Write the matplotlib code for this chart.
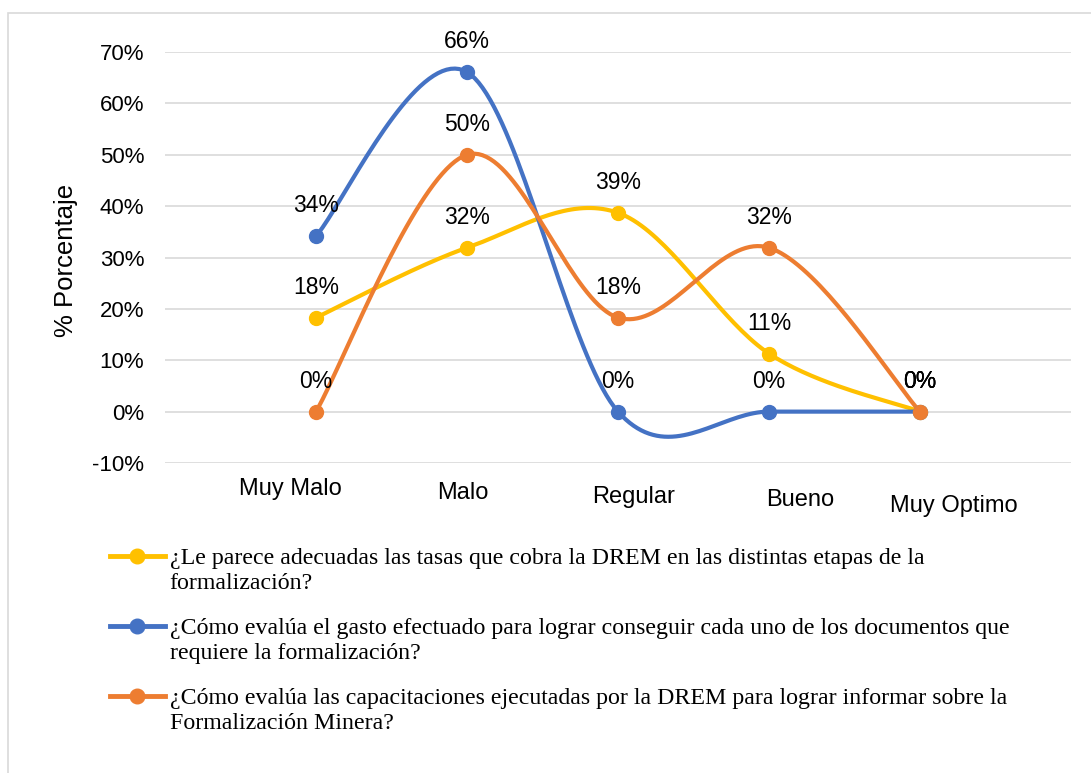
import numpy as np
import matplotlib.pyplot as plt
from matplotlib.patches import Rectangle
from matplotlib.ticker import PercentFormatter

plt.rcParams['font.family'] = ['Liberation Sans', 'DejaVu Sans']
plt.rcParams['axes.unicode_minus'] = False

# datos
categorias = ['Muy Malo', 'Malo', 'Regular', 'Bueno', 'Muy Optimo']
tasas = [0.183, 0.319, 0.387, 0.113, 0.0]
gasto = [0.342, 0.661, 0.0, 0.0, 0.0]
capacitaciones = [0.0, 0.50, 0.183, 0.319, 0.0]
preguntas = [
    '¿Le parece adecuadas las tasas que cobra la DREM en las distintas etapas de la\nformalización?',
    '¿Cómo evalúa el gasto efectuado para lograr conseguir cada uno de los documentos que\nrequiere la formalización?',
    '¿Cómo evalúa las capacitaciones ejecutadas por la DREM para lograr informar sobre la\nFormalización Minera?',
]
colores = ['#FFC000', '#4472C4', '#ED7D31']

# desplazamiento (pt) de cada etiqueta de categoria, como en el original
desfase_x = [-18.7, -2.9, 11.5, 22.3, 24.5]
desfase_y = [11.0, 14.0, 16.5, 19.0, 23.0]


def suavizar(y, n=40):
    # curva tipo Excel (bezier catmull-rom)
    p = np.column_stack([np.arange(len(y), dtype=float), y])
    pts = []
    for i in range(len(p) - 1):
        p0 = p[max(i - 1, 0)]
        p1 = p[i]
        p2 = p[i + 1]
        p3 = p[min(i + 2, len(p) - 1)]
        c1 = p1 + (p2 - p0) / 6
        c2 = p2 - (p3 - p1) / 6
        t = np.linspace(0, 1, n)[:, None]
        seg = (1 - t)**3 * p1 + 3 * (1 - t)**2 * t * c1 + 3 * (1 - t) * t**2 * c2 + t**3 * p2
        pts.append(seg if i == 0 else seg[1:])
    s = np.vstack(pts)
    return s[:, 0], s[:, 1]


fig = plt.figure(figsize=(10.91, 7.73), dpi=100)
ax = fig.add_axes([165 / 1091, 1 - 463 / 773, 906 / 1091, 411 / 773])

handles = []
for serie, color in zip([tasas, gasto, capacitaciones], colores):
    xs, ys = suavizar(serie)
    ax.plot(xs, ys, color=color, lw=3, solid_capstyle='round', zorder=3)
    ax.plot(range(len(serie)), serie, 'o', color=color, ms=10, zorder=4)
    h, = ax.plot([], [], '-o', color=color, lw=3.5, ms=10.5)
    handles.append(h)
    for i, v in enumerate(serie):
        ax.annotate(f'{v:.0%}', (i, v), xytext=(0, 22), textcoords='offset points',
                    ha='center', va='center', fontsize=16.5, zorder=5)

ax.set_xlim(-1, 5)
ax.set_ylim(-0.1, 0.7)
ax.set_yticks(np.arange(-0.1, 0.71, 0.1))
ax.yaxis.set_major_formatter(PercentFormatter(1.0, decimals=0))
ax.set_xticks(range(len(categorias)))
ax.set_xticklabels([])
ax.tick_params(length=0, labelsize=16, pad=15)
ax.yaxis.grid(True, color='#D9D9D9', lw=1.2)
ax.set_axisbelow(True)
for s in ax.spines.values():
    s.set_visible(False)

for i, cat in enumerate(categorias):
    ax.annotate(cat, (i, 0), xycoords=ax.get_xaxis_transform(),
                xytext=(desfase_x[i], -desfase_y[i]), textcoords='offset points',
                ha='center', va='top', fontsize=17)

ax.set_ylabel('% Porcentaje', fontsize=18.5)
ax.yaxis.set_label_coords(-0.096, 0.494)

leg = fig.legend(handles, preguntas, loc='upper left',
                 bbox_to_anchor=(110 / 1091, 1 - 548 / 773),
                 frameon=False, borderpad=0, borderaxespad=0,
                 handlelength=2.3, handletextpad=0.2, labelspacing=1.0,
                 prop={'family': 'Liberation Serif', 'size': 17.2})
for t in leg.get_texts():
    t.set_linespacing(1.25)
# alinear el simbolo con la primera linea del texto
for col in leg._legend_handle_box.get_children():
    for fila in col.get_children():
        fila.align = 'top'

fig.add_artist(Rectangle((8 / 1091, -0.05), 1.0, 1 - 13 / 773 + 0.05,
                         transform=fig.transFigure, fill=False,
                         edgecolor='#D9D9D9', lw=1.2))

fig.savefig('out.png', dpi=100)
